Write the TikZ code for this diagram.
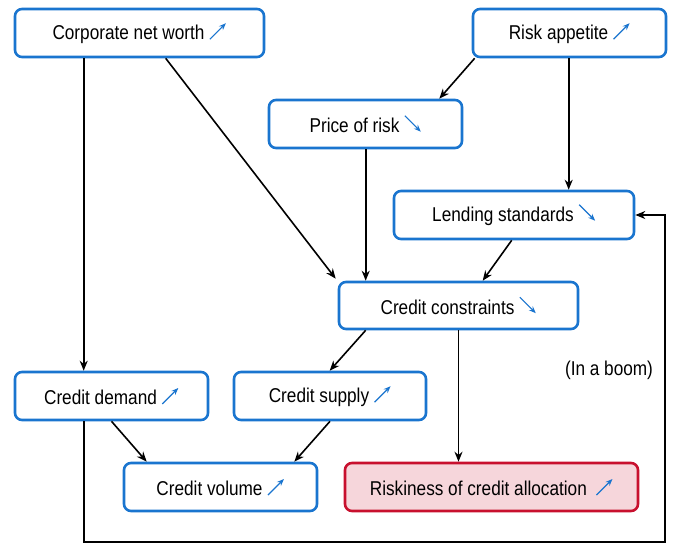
\documentclass[tikz,border=0pt]{standalone}
\usepackage{fontspec}
\setmainfont{Liberation Sans}[FakeStretch=0.86]
\usetikzlibrary{arrows.meta}
\definecolor{bblue}{HTML}{1A75CF}
\definecolor{rred}{HTML}{C8102E}
\definecolor{rfill}{HTML}{F6D6DB}
\newcommand{\upar}{\tikz[baseline=0pt]\draw[bblue, line width=1.2pt, -{Stealth[length=7pt,width=5.5pt]}] (0pt,0pt) -- (16pt,16pt);}
\newcommand{\dnar}{\tikz[baseline=0pt]\draw[bblue, line width=1.2pt, -{Stealth[length=7pt,width=5.5pt]}] (0pt,17pt) -- (16pt,1pt);}
\begin{document}
\begin{tikzpicture}[x=1pt,y=-1pt,
  box/.style={draw=bblue, line width=2.6pt, rounded corners=7pt, fill=white,
    minimum height=48pt, inner sep=0pt, font=\fontsize{20}{23}\selectfont},
  redbox/.style={box, draw=rred, fill=rfill},
  conn/.style={draw=black, line width=1.6pt, -{Stealth[length=10pt,width=8pt]}},
  lbl/.style={font=\fontsize{20}{23}\selectfont}]
\useasboundingbox (0,0) rectangle (673,544);
\node[box, minimum width=249pt] (cnw) at (139.5,33) {Corporate net worth \upar};
\node[box, minimum width=193pt] (ra) at (569.5,33) {Risk appetite \upar};
\node[box, minimum width=193pt] (pr) at (365.5,124) {Price of risk \dnar};
\node[box, minimum width=240pt] (ls) at (514,215) {Lending standards \dnar};
\node[box, minimum width=239pt, minimum height=47pt] (cc) at (458.5,305.5) {Credit constraints \dnar};
\node[box, minimum width=193pt] (cd) at (111.5,396) {Credit demand \upar};
\node[box, minimum width=192pt] (cs) at (330,396) {Credit supply \upar};
\node[box, minimum width=193pt] (cv) at (220.5,487) {Credit volume \upar};
\node[redbox, minimum width=293pt] (rk) at (491.5,487) {Riskiness of credit allocation\hspace{9pt}\upar};
\node[lbl] (boom) at (609,370) {(In a boom)};
\coordinate (rb) at (665,542);

\draw[conn] ([xshift=70pt]cnw.south west) -- ([xshift=70pt]cd.north west);
\draw[conn] ([xshift=152pt]cnw.south west) -- ([shift={(-2pt,2pt)}]cc.north west);
\draw[conn] ([xshift=3pt]ra.south west) -- ([xshift=-24pt]pr.north east);
\draw[conn] ([xshift=97pt]ra.south west) -- ([xshift=176pt]ls.north west);
\draw[conn] ([xshift=98pt]pr.south west) -- ([xshift=28pt]cc.north west);
\draw[conn] ([xshift=119pt]ls.south west) -- ([xshift=145pt]cc.north west);
\draw[conn] ([xshift=28pt]cc.south west) -- ([xshift=97pt]cs.north west);
\draw[conn] (cc.south) -- (cc.south |- rk.north);
\draw[conn] (cd.south) -- ([xshift=24pt]cv.north west);
\draw[conn] (cs.south) -- ([xshift=-24pt]cv.north east);
\draw[conn] ([xshift=70pt]cd.south west) |- (rb) |- (ls.east);
\end{tikzpicture}
\end{document}
